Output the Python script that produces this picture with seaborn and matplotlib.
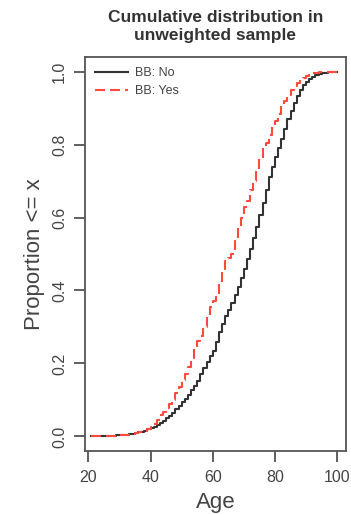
import matplotlib
matplotlib.use("Agg")
import matplotlib.pyplot as plt
import seaborn as sns
import pandas as pd
import numpy as np

ages = list(range(21, 101))

prop_no = [0.000, 0.000, 0.000, 0.001, 0.001, 0.001, 0.002, 0.002, 0.003, 0.003,
           0.004, 0.005, 0.006, 0.007, 0.009, 0.011, 0.013, 0.015, 0.019, 0.023,
           0.027, 0.032, 0.037, 0.043, 0.050, 0.057, 0.065, 0.074, 0.083, 0.093,
           0.103, 0.114, 0.126, 0.139, 0.153, 0.170, 0.187, 0.205, 0.220, 0.235,
           0.260, 0.285, 0.308, 0.330, 0.347, 0.365, 0.387, 0.410, 0.435, 0.460,
           0.487, 0.515, 0.545, 0.575, 0.607, 0.640, 0.675, 0.710, 0.738, 0.765,
           0.790, 0.815, 0.843, 0.870, 0.893, 0.915, 0.933, 0.950, 0.962, 0.972,
           0.979, 0.986, 0.990, 0.993, 0.995, 0.997, 0.998, 0.999, 1.000, 1.000]

prop_yes = [0.000, 0.000, 0.000, 0.001, 0.001, 0.001, 0.002, 0.002, 0.003, 0.003,
            0.004, 0.005, 0.006, 0.007, 0.009, 0.011, 0.013, 0.016, 0.020, 0.025,
            0.035, 0.045, 0.058, 0.068, 0.078, 0.090, 0.100, 0.118, 0.135, 0.155,
            0.172, 0.190, 0.215, 0.240, 0.262, 0.275, 0.300, 0.330, 0.355, 0.370,
            0.385, 0.420, 0.460, 0.480, 0.490, 0.500, 0.535, 0.570, 0.600, 0.628,
            0.645, 0.675, 0.700, 0.730, 0.760, 0.790, 0.805, 0.825, 0.848, 0.865,
            0.885, 0.905, 0.920, 0.937, 0.950, 0.960, 0.968, 0.977, 0.983, 0.988,
            0.992, 0.995, 0.997, 0.999, 1.000, 1.000, 1.000, 1.000, 1.000, 1.000]

groups = ["BB: No", "BB: Yes"]
x_ticks = [20, 40, 60, 80, 100]
y_ticks = [0.0, 0.2, 0.4, 0.6, 0.8, 1.0]

df = pd.DataFrame({
    "Age": ages * 2,
    "Proportion": prop_no + prop_yes,
    "BB": [groups[0]] * len(ages) + [groups[1]] * len(ages),
})

plt.rcParams['font.family'] = ['Liberation Sans', 'DejaVu Sans']
fig = plt.figure(figsize=(3.51, 5.14), dpi=100)
ax = fig.add_axes([85/351, 1-451/514, (346-85)/351, (451-57)/514])

txt = "#444444"
colors = {"BB: No": "#333333", "BB: Yes": "#ff4a3d"}
sns.lineplot(data=df[df.BB == groups[0]], x="Age", y="Proportion", color=colors[groups[0]],
             lw=1.5, drawstyle="steps-post", ax=ax, legend=False, label=groups[0])
sns.lineplot(data=df[df.BB == groups[1]], x="Age", y="Proportion", color=colors[groups[1]],
             lw=1.5, drawstyle="steps-post", ax=ax, legend=False, label=groups[1],
             dashes=False)
ax.lines[1].set_dashes([4.8, 2.4])

ax.set_xlim(18.94, 102.8)
ax.set_ylim(-0.04, 1.04)
ax.set_xticks(x_ticks)
ax.set_yticks(y_ticks)
ax.set_xticklabels([str(v) for v in x_ticks], fontsize=11.5, color=txt)
ax.set_yticklabels([f"{v:.1f}" for v in y_ticks], fontsize=11.5, color=txt, rotation=90, va="center")
ax.tick_params(direction="out", length=8, width=1.2, color="#444444", pad=6)
ax.tick_params(axis="y", pad=5)
for s in ax.spines.values():
    s.set_color("#555555")
    s.set_linewidth(1.3)
ax.set_xlabel("Age", fontsize=16, color=txt, labelpad=5)
ax.set_ylabel("Proportion <= x", fontsize=16, color=txt, labelpad=5)
fig.suptitle("Cumulative distribution in\nunweighted sample", x=(85+346)/2/351, y=1-10/514,
             va="top", fontsize=12.5, fontweight="bold", color="#333333", linespacing=1.25)

leg = ax.legend(loc="upper left", frameon=False, fontsize=9, handlelength=2.6,
                borderaxespad=0.5, labelspacing=0.5, handletextpad=0.6, labelcolor=txt,
                borderpad=0.3)

fig.savefig("out.png", dpi=100)
